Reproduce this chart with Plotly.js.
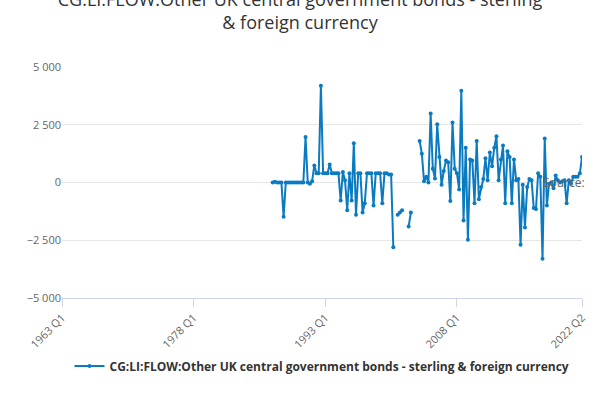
<!DOCTYPE html>
<html><head><meta charset="utf-8">
<script src="https://cdn.plot.ly/plotly-3.0.1.min.js"></script>
<style>body{margin:0}#c{width:600px;height:400px}</style></head>
<body><div id="c"></div>
<script>
const startYear = 1987;
const values = [
0,30,0,0, 0,-1480,0,0, 0,0,0,0, 0,0,0,1970,
0,-50,50,740, 400,400,4190,400, 400,400,780,400, 400,400,400,-780,
450,100,-1200,400, -780,1700,-1400,400, 400,-1300,-900,400, 400,400,-1000,400,
400,400,-900,400, 400,350,350,-2800,
null,-1400,-1300,-1200, null,null,-1900,-1300, null,null,null,
1800,1250,50,250,0,2990,600,170,2520,1100,-100,500,950,880,-800,2600,600,400,-300,3970,
-1650,1500,-2480,1000,950,-900,1800,-720,-200,150,1050,100,1300,700,1500,2000,100,1000,1600,-900,
1350,1100,-900,1000,100,150,-2700,-100,-1950,-200,150,100,-1100,-1150,400,250,-3300,1900,-1000,-50,
0,-250,300,100,0,50,100,-900,100,-50,250,250,250,400,1100
];
const tickVals = ['1963-01-01','1978-01-01','1993-01-01','2008-01-01','2022-04-01'];
const tickText = ['1963 Q1','1978 Q1','1993 Q1','2008 Q1','2022 Q2'];
const dates = values.map((v,i)=>{const y=startYear+Math.floor(i/4);const m=(i%4)*3+1;return y+'-'+String(m).padStart(2,'0')+'-01';});
Plotly.newPlot('c',[{x:dates,y:values,type:'scatter',mode:'lines+markers',connectgaps:false,
 name:'CG:LI:FLOW:Other UK central government bonds - sterling & foreign currency',
 line:{color:'#0b7bc1',width:2},marker:{color:'#0b7bc1',size:4}}],
{width:600,height:400,font:{family:'"Open Sans", sans-serif',color:'#333'},
 title:{text:'CG:LI:FLOW:Other UK central government bonds - sterling<br>& foreign currency',font:{size:18,color:'#333'},x:0.5,xanchor:'center',yref:'container',y:0.985,yanchor:'top'},
 margin:{l:62,r:18,t:67,b:102,autoexpand:false},separators:'. ',showlegend:true,
 legend:{orientation:'h',x:0.5,xanchor:'center',yref:'container',y:0.085,yanchor:'middle',font:{size:12,color:'#333',weight:'bold'}},
 xaxis:{type:'date',range:['1963-01-01','2022-04-01'],tickvals:tickVals,ticktext:tickText,tickangle:-45,
   showgrid:false,showline:true,linecolor:'#ccd6eb',ticks:'outside',tickcolor:'#ccd6eb',ticklen:8,tickfont:{size:11,color:'#666'}},
 yaxis:{range:[-5000,5000],tickvals:[-5000,-2500,0,2500,5000],tickformat:',',gridcolor:'#e6e6e6',zeroline:false,tickfont:{size:11,color:'#666'}},
 annotations:[{text:'Source:',xref:'paper',yref:'container',x:1.01,y:0.025,xanchor:'right',yanchor:'middle',showarrow:false,font:{size:12,color:'#666'}}]
},{displayModeBar:false});
</script></body></html>
